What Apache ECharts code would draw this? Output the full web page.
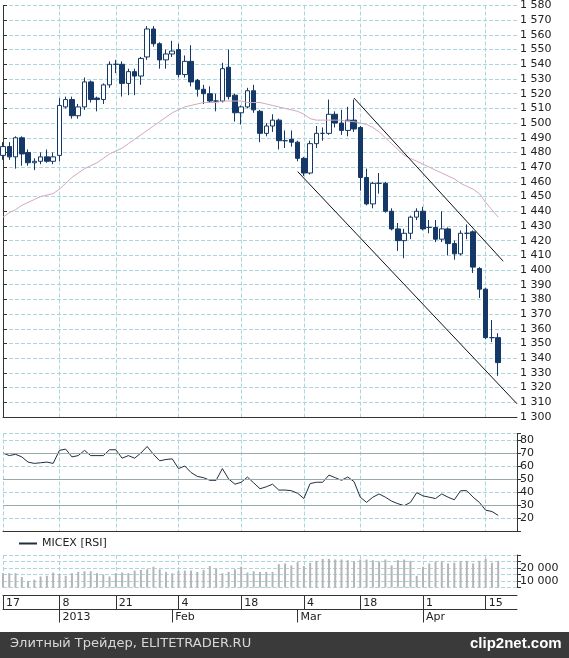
<!DOCTYPE html>
<html><head><meta charset="utf-8">
<script src="https://cdn.jsdelivr.net/npm/echarts@6/dist/echarts.min.js"></script>
<style>html,body{margin:0;padding:0;background:#fff}#c{width:569px;height:658px}</style>
</head><body><div id="c"></div>
<script>
// [open, close, low, high]
const candles = [
[1478,1484,1475,1487],[1484,1477,1475,1487],[1477,1490,1469,1491],[1490,1479,1471,1491],[1480,1473,1471,1482],
[1473,1474,1468,1476],[1474,1477,1472,1480],[1477,1474,1473,1482],[1474,1477,1472,1480],[1478,1512,1474,1517],
[1511,1516,1510,1518],[1516,1505,1503,1518],[1505,1511,1503,1513],[1511,1528,1509,1531],[1528,1516,1514,1529],
[1517,1516,1508,1518],[1516,1526,1513,1527],[1526,1540,1524,1542],[1540,1540,1534,1543],[1540,1527,1518,1542],
[1527,1535,1519,1537],[1535,1532,1519,1537],[1532,1544,1526,1545],[1545,1564,1543,1566],[1564,1554,1552,1566],
[1554,1543,1537,1555],[1543,1547,1537,1550],[1547,1549,1545,1556],[1550,1533,1531,1554],[1533,1542,1531,1546],
[1542,1528,1525,1553],[1529,1523,1518,1530],[1523,1520,1513,1526],[1520,1515,1514,1525],[1515,1515,1508,1520],
[1515,1537,1514,1541],[1538,1518,1516,1550],[1519,1507,1501,1520],[1507,1511,1499,1512],[1511,1522,1510,1524],
[1522,1509,1507,1526],[1508,1493,1487,1509],[1493,1498,1491,1500],[1498,1502,1494,1506],[1502,1488,1482,1503],
[1488,1488,1483,1495],[1489,1487,1484,1495],[1487,1476,1474,1488],[1476,1466,1464,1477],[1466,1486,1465,1488],
[1486,1493,1483,1498],[1493,1493,1488,1497],[1493,1506,1492,1516],[1506,1500,1497,1508],[1500,1495,1492,1509],
[1495,1502,1491,1511],[1502,1496,1494,1516],[1497,1463,1454,1498],[1463,1445,1444,1469],[1445,1459,1442,1460],
[1459,1459,1452,1466],[1459,1440,1439,1460],[1440,1428,1427,1442],[1428,1420,1413,1432],[1420,1425,1408,1428],
[1425,1436,1421,1437],[1436,1440,1434,1442],[1440,1428,1427,1443],[1429,1429,1425,1434],[1429,1421,1419,1434],
[1421,1428,1419,1440],[1428,1418,1410,1429],[1418,1411,1407,1420],[1411,1425,1410,1427],[1425,1425,1421,1431],
[1426,1402,1398,1427],[1401,1387,1381,1402],[1387,1354,1353,1388],[1354,1354,1351,1366],[1354,1337,1328,1357]
];
const ma = [1436,1439,1441,1444,1446,1448,1450,1451,1452,1455,1459,1463,1466,1469,1471,1473,1476,1479,1481,1483,
1486,1489,1492,1495,1498,1501,1504,1507,1509,1511,1512,1513,1514,1514,1514,1515,1515,1515,1515,1514,
1514,1514,1513,1512,1511,1510,1509,1508,1506,1503,1502,1502,1502,1502,1502,1501,1501,1500,1499,1497,
1494,1490,1486,1482,1478,1476,1474,1472,1470,1468,1466,1464,1462,1459,1457,1455,1452,1446,1441,1436];
const rsi = [70,68,69,67,63,62,62.5,63,62,72,73,67,68,72,68,68,68,72.5,72.5,66,68,66,70,75,69,64,65,65.5,58,60,
55,52,51,49,49,58,50,46,47.5,51.5,47,42.5,44,46,41.5,41.5,41,39,35,46.5,47.5,47.5,53,51,49,51.5,48,36,32,36,
38.5,36,33,31,29.5,32,39.5,37,36,35,38.5,36,34,41,41,36,32,26,25,22];
const volume = [16000,16000,16000,13000,10000,11000,13500,14000,16500,15500,14000,16000,17000,17500,17500,16000,15000,13500,16000,16500,
16000,18000,18500,19000,21000,19000,17000,16000,18000,18000,18000,17000,18500,21500,19500,16000,17000,19000,21000,16500,
17500,17000,17000,17000,23000,23500,22000,24500,21500,24000,25500,27000,27000,26500,26500,26000,25000,26500,26500,26000,
25000,26500,22000,26000,26500,25500,14000,21000,23500,25000,25000,23500,24000,25000,25500,23500,25500,27000,24000,25500];
const upperTrend = [[56,1517],[79.8,1406]];
const lowerTrend = [[47,1467],[82,1309]];
const N = 83;
const dayLabels = {0:'17',9:'8',18:'21',28:'4',38:'18',48:'4',57:'18',67:'1',77:'15'};
const monthLabels = {9:'2013',27:'Feb',47:'Mar',67:'Apr'};
const cats = Array.from({length:N},(_,i)=>String(i));

const gridLine = {show:true,lineStyle:{color:'#a9d6df',type:'dashed',width:1}};
const isDay = i => dayLabels[i]!==undefined;
const isMonth = i => monthLabels[i]!==undefined;
const sp = v => String(v).replace(/\B(?=(\d{3})+(?!\d))/g,' ');
const txt = {color:'#222',fontSize:11,fontFamily:'DejaVu Sans'};

function xCat(grid, extra){
  return Object.assign({type:'category',gridIndex:grid,data:cats,boundaryGap:false,
    axisLine:{show:false},axisTick:{show:false},axisLabel:{show:false},
    splitLine:Object.assign({},gridLine,{interval:(i)=>isDay(i)})},extra||{});
}
function yAx(grid,min,max,interval,fmt){
  return {type:'value',gridIndex:grid,position:'right',min,max,interval,
    axisLine:{show:true,lineStyle:{color:'#333'}},axisTick:{show:true,length:4,lineStyle:{color:'#333'}},
    axisLabel:Object.assign({margin:3,formatter:fmt},txt),splitLine:gridLine};
}
const chart = echarts.init(document.getElementById('c'),null,{renderer:'canvas'});
chart.setOption({
  animation:false,backgroundColor:'#fff',
  grid:[
    {left:3,right:52,top:4,height:413,show:false},
    {left:3,right:52,top:433.5,height:97.5,show:false},
    {left:3,right:52,top:555,height:32.5,show:false}
  ],
  xAxis:[
    xCat(0,{axisLine:{show:true,lineStyle:{color:'#333'}}}),
    {type:'value',gridIndex:0,min:0,max:N-1,show:false},
    xCat(1,{axisLine:{show:true,lineStyle:{color:'#333'}}}),
    xCat(2,{axisLine:{show:true,onZero:false,lineStyle:{color:'#333'}},offset:8,
      axisTick:{show:true,inside:false,length:14,interval:(i)=>isDay(i),lineStyle:{color:'#333'}},
      axisLabel:Object.assign({show:true,interval:(i)=>isDay(i),formatter:(v,i)=>dayLabels[i]||'',align:'left',margin:2,padding:[0,0,0,3]},txt)}),
    xCat(2,{position:'bottom',offset:22,splitLine:{show:false},axisLine:{show:true,onZero:false,lineStyle:{color:'#333'}},
      axisTick:{show:true,inside:false,length:13,interval:(i)=>isMonth(i),lineStyle:{color:'#333'}},
      axisLabel:Object.assign({show:true,interval:(i)=>isMonth(i),formatter:(v,i)=>monthLabels[i]||'',align:'left',margin:2,padding:[0,0,0,3]},txt)})
  ],
  yAxis:[
    yAx(0,1300,1580,10,v=>sp(v)),
    yAx(1,10,85,10,v=>(v>=20&&v<=80)?String(v):''),
    yAx(2,5000,30000,5000,v=>(v===10000||v===20000)?sp(v):'')
  ],
  legend:{left:14,top:533,itemWidth:18,itemHeight:2,icon:'rect',data:['MICEX [RSI]'],textStyle:txt},
  series:[
    {type:'candlestick',xAxisIndex:0,yAxisIndex:0,barWidth:5,data:candles,
      itemStyle:{color:'#fff',color0:'#143868',borderColor:'#143868',borderColor0:'#143868',borderWidth:1}},
    {type:'line',xAxisIndex:0,yAxisIndex:0,data:ma,symbol:'none',lineStyle:{color:'#d3a9bd',width:1}},
    {type:'line',xAxisIndex:1,yAxisIndex:0,data:upperTrend,symbol:'none',lineStyle:{color:'#111',width:1}},
    {type:'line',xAxisIndex:1,yAxisIndex:0,data:lowerTrend,symbol:'none',lineStyle:{color:'#111',width:1}},
    {name:'MICEX [RSI]',type:'line',xAxisIndex:2,yAxisIndex:1,data:rsi,symbol:'none',color:'#1f2f3f',lineStyle:{color:'#1f2f3f',width:1},
      markLine:{silent:true,symbol:'none',label:{show:false},lineStyle:{color:'#9aa',type:'solid',width:1},data:[{yAxis:30},{yAxis:50},{yAxis:70}]}},
    {type:'bar',xAxisIndex:3,yAxisIndex:2,data:volume,barWidth:2,itemStyle:{color:'#b5b5b5'}}
  ],
  graphic:[
    {type:'rect',left:0,top:632,shape:{width:569,height:26},style:{fill:'#3a3a3a'}},
    {type:'text',left:10,top:637,style:{text:'Элитный Трейдер, ELITETRADER.RU',fill:'#d8d8d8',font:'13px "DejaVu Sans"'}},
    {type:'text',left:470,top:636,style:{text:'clip2net.com',fill:'#ffffff',font:'bold 15px "Liberation Sans"'}}
  ]
});
</script></body></html>
